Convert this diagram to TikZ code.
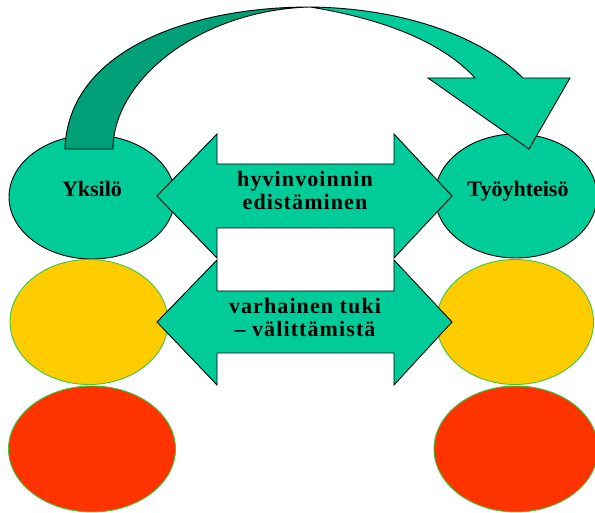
\documentclass[tikz,border=0pt]{standalone}
\usepackage{fontspec}
\setmainfont{Liberation Serif}
\newfontfamily\widefont[LetterSpace=5]{Liberation Serif}
\usepackage{tikz}
\usetikzlibrary{positioning,shapes}
\definecolor{lgreen}{RGB}{0,204,153}
\definecolor{dgreen}{RGB}{0,160,120}
\definecolor{tyellow}{RGB}{255,204,0}
\definecolor{tred}{RGB}{255,51,0}
\definecolor{rimgreen}{RGB}{60,200,60}

\begin{document}
\begin{tikzpicture}[x=1pt, y=-1pt,
			font=\fontsize{22}{23}\selectfont\bfseries,
			blob/.style={ellipse, inner sep=0pt, line width=0.9pt},
			okblob/.style={blob, draw=black, fill=lgreen},
			warnblob/.style={blob, draw=rimgreen, fill=tyellow},
			alarmblob/.style={blob, draw=rimgreen, fill=tred},
			band/.style={draw=black, line width=0.9pt, line join=miter},
			lbl/.style={align=center, inner sep=0pt},
			widelbl/.style={lbl, font=\widefont\fontsize{22}{23}\selectfont\bfseries}]
			
			\useasboundingbox (0,0) rectangle (595,513);
			
			% ellipses
			\node[okblob, minimum width=166pt, minimum height=124pt] (yksilo) at (92,197) {};
			\node[okblob, minimum width=162pt, minimum height=124pt] (tyoyht) at (516,196) {};
			\node[warnblob, minimum width=158pt, minimum height=125pt] (yksilo2) at (89,322) {};
			\node[warnblob, minimum width=157pt, minimum height=125pt] (tyoyht2) at (515,322) {};
			\node[alarmblob, minimum width=167pt, minimum height=126pt] (yksilo3) at (92,449) {};
			\node[alarmblob, minimum width=164pt, minimum height=126pt] (tyoyht3) at (516,449) {};
			
			\node[lbl, anchor=base] (yksilotxt) at (92,197) {Yksilö};
			\node[lbl, anchor=base] (tyoyhttxt) at (518,197) {Työyhteisö};
			
			% curved arrow
			\draw[band, fill=dgreen] (65,149) .. controls (68,50) and (190,7) .. (310,7)
				.. controls (200,10) and (113,80) .. (113,149) -- cycle;
			\draw[band, fill=lgreen] (310,7) .. controls (400,8) and (480,35) .. (523,78)
				-- (570,78) -- (529,149) -- (428,78) -- (475,78)
				.. controls (445,45) and (390,20) .. (310,7) -- cycle;
			
			% double arrows
			\draw[band, fill=lgreen] (157,196) -- (217,134) -- (217,164) -- (394,164) -- (394,134)
				-- (452,196) -- (394,258) -- (394,228) -- (217,228) -- (217,258) -- cycle;
			\draw[band, fill=lgreen] (157,322) -- (217,260) -- (217,291) -- (394,291) -- (394,260)
				-- (452,322) -- (394,385) -- (394,353) -- (217,353) -- (217,385) -- cycle;
			
			\node[widelbl] (edist) at (305,190) {hyvinvoinnin\\edistäminen};
			\node[widelbl] (varhainen) at (305,317) {varhainen tuki\\– välittämistä};
		\end{tikzpicture}
\end{document}
